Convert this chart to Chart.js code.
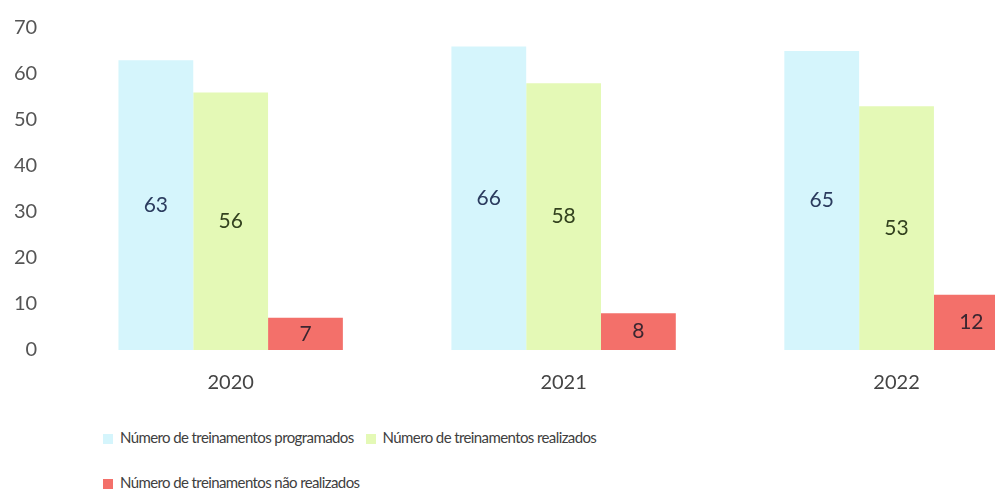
<!DOCTYPE html>
<html>
<head>
  <meta charset="UTF-8">
  <title>Treinamentos</title>
  <script src="https://cdn.jsdelivr.net/npm/chart.js"></script>
  <style>
    html, body {
      margin: 0;
      padding: 0;
      background: #fff;
      overflow: hidden;
      width: 995px;
      height: 493px;
    }
    #wrap {
      position: absolute;
      left: -18px;
      top: -3px;
      width: 1081px;
      height: 411px;
    }
    #legend {
      position: absolute;
      left: 103px;
      top: 426px;
      width: 880px;
      font-family: Lato, sans-serif;
      font-size: 15px;
      letter-spacing: -0.6px;
      color: #404040;
    }
    .item {
      display: inline-block;
      height: 22px;
      line-height: 22px;
      margin-right: 12px;
      margin-bottom: 23px;
      white-space: nowrap;
    }
    .box {
      display: inline-block;
      width: 10px;
      height: 10px;
      margin-right: 7px;
      vertical-align: -1px;
    }
  </style>
</head>
<body>

  <div id="wrap"><canvas id="chart"></canvas></div>
  <div id="legend"></div>

  <script>
    const years = ['2020', '2021', '2022'];
    const programados = [63, 66, 65];
    const realizados = [56, 58, 53];
    const naoRealizados = [7, 8, 12];
    const yTicks = [0, 10, 20, 30, 40, 50, 60, 70];

    const series = [
      { label: 'Número de treinamentos programados', data: programados, color: '#d5f5fc', text: '#2b3b5e' },
      { label: 'Número de treinamentos realizados', data: realizados, color: '#e4f9b6', text: '#33421f' },
      { label: 'Número de treinamentos não realizados', data: naoRealizados, color: '#f3706a', text: '#3b2630' }
    ];

    // value labels in the middle of each bar
    const barValues = {
      id: 'barValues',
      afterDatasetsDraw(chart) {
        const c = chart.ctx;
        c.save();
        c.font = '21px Lato, sans-serif';
        c.textAlign = 'center';
        c.textBaseline = 'middle';
        chart.data.datasets.forEach((ds, i) => {
          chart.getDatasetMeta(i).data.forEach((bar, j) => {
            c.fillStyle = series[i].text;
            c.fillText(ds.data[j], bar.x, (bar.y + bar.base) / 2);
          });
        });
        c.restore();
      }
    };

    new Chart(document.getElementById('chart'), {
      type: 'bar',
      data: {
        labels: years,
        datasets: series.map(s => ({
          label: s.label,
          data: s.data,
          backgroundColor: s.color,
          borderWidth: 0,
          barPercentage: 1,
          categoryPercentage: 0.674
        }))
      },
      options: {
        responsive: true,
        maintainAspectRatio: false,
        animation: false,
        layout: { padding: { left: 13, right: 0, top: 6, bottom: 0 } },
        plugins: {
          legend: { display: false },
          tooltip: { enabled: false }
        },
        scales: {
          x: {
            grid: { display: false },
            border: { display: false },
            ticks: { color: '#444', font: { family: 'Lato', size: 20 }, padding: 13 }
          },
          y: {
            min: 0,
            max: 70,
            afterBuildTicks: axis => { axis.ticks = yTicks.map(v => ({ value: v })); },
            grid: { display: false },
            border: { display: false },
            ticks: { color: '#555', font: { family: 'Lato', size: 20 }, padding: 19 }
          }
        }
      },
      plugins: [barValues]
    });

    const legend = document.getElementById('legend');
    series.forEach((s, i) => {
      const item = document.createElement('span');
      item.className = 'item';
      item.innerHTML = '<span class="box" style="background:' + s.color + '"></span>' + s.label;
      legend.appendChild(item);
      if (i === 1) legend.appendChild(document.createElement('br'));
    });
  </script>

</body>
</html>
